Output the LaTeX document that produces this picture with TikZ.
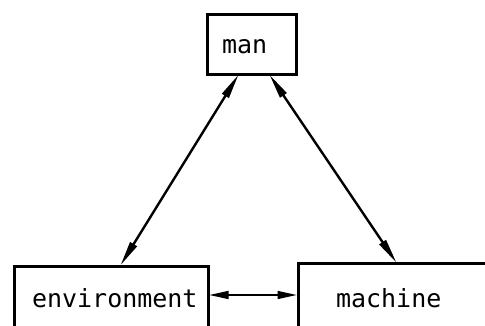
\documentclass[tikz,border=0pt]{standalone}
\usepackage{fontspec}
\setmonofont{DejaVu Sans Mono}
\usetikzlibrary{calc}
\tikzset{
  box/.style={draw, line width=3pt, inner sep=0pt, outer sep=0pt},
  lbl/.style={font=\ttfamily\fontsize{25}{30}\selectfont, inner sep=0pt, outer sep=0pt},
  link/.style={line width=2.4pt, shorten <=8pt, shorten >=8pt}
}
% filled wedge of length #3 with its point at #1, opening back towards #2
\newcommand\wedgeat[3]{%
  \fill (#1) -- ($(#1)!#3!(#2)!4.2pt!90:(#1)$) -- ($(#1)!#3!(#2)!4.2pt!-90:(#1)$) -- cycle;}
\begin{document}
\begin{tikzpicture}[x=1pt,y=-1pt]
  \useasboundingbox (0,0) rectangle (485,325);
  \clip (0,0) rectangle (485,325);
  % the three boxes (the lower two run past the bottom edge)
  \node[box, minimum width=89pt, minimum height=60pt] (man) at (251.5,44) {};
  \node[box, minimum width=194pt, minimum height=64pt] (env) at (111,298) {};
  \node[box, minimum width=230pt, minimum height=66pt] (mach) at (413,296.5) {};
  % labels
  \node[lbl, anchor=base west] (tman) at (222,53) {man};
  \node[lbl, anchor=base west] (tenv) at (32,307) {environment};
  \node[lbl, anchor=base west] (tmach) at (336,307) {machine};
  % ends of the two-way links
  \coordinate (a1) at ([xshift=-13.5pt,yshift=-1.5pt]man.south);
  \coordinate (a2) at ([xshift=10pt,yshift=1.5pt]env.north);
  \coordinate (b1) at ([xshift=18.5pt,yshift=-1.5pt]man.south);
  \coordinate (b2) at ([xshift=-17pt,yshift=1.5pt]mach.north);
  \coordinate (c1) at ([xshift=1.5pt,yshift=3pt]env.east);
  \coordinate (c2) at ([xshift=-1.5pt]c1 -| mach.west);
  % two-way links
  \draw[link] (a1) -- (a2);
  \draw[link] (b1) -- (b2);
  \draw[link] (c1) -- (c2);
  \wedgeat{a1}{a2}{24pt}\wedgeat{a2}{a1}{24pt}
  \wedgeat{b1}{b2}{24pt}\wedgeat{b2}{b1}{24pt}
  \wedgeat{c1}{c2}{19pt}\wedgeat{c2}{c1}{19pt}
\end{tikzpicture}
\end{document}
